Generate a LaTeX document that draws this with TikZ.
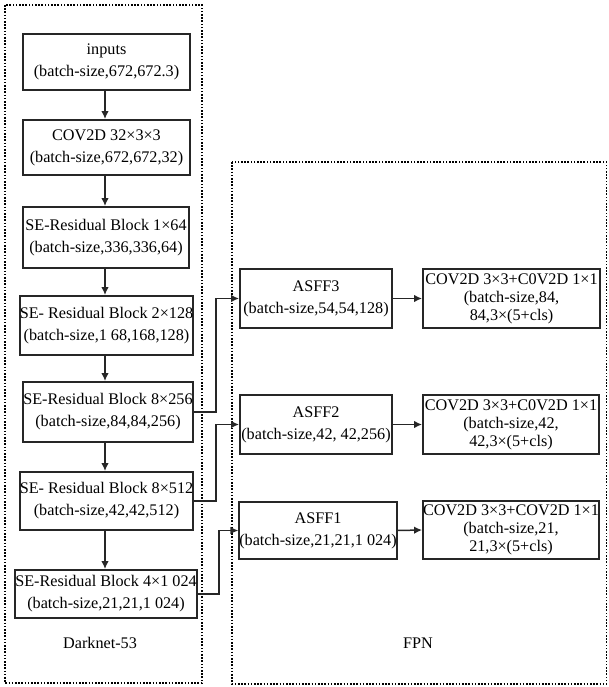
\documentclass[tikz,border=0pt]{standalone}
\usepackage{fontspec}
\setmainfont{Liberation Serif}
\usetikzlibrary{arrows.meta}
\begin{document}
\begin{tikzpicture}[x=1pt,y=-1pt,
  box/.style={draw=black!85,line width=1.8pt,inner sep=0pt,align=center,
    font=\fontsize{16.2}{22}\selectfont,anchor=center},
  box3/.style={box,font=\fontsize{16.2}{18}\selectfont},
  frame/.style={draw=black,line width=1.5pt,dash pattern=on 1.6pt off 1.6pt},
  conn/.style={draw=black!85,line width=1.5pt,-{Latex[length=8pt,width=7.5pt]}},
  lbl/.style={font=\fontsize{16.2}{18}\selectfont,inner sep=0pt}]
\useasboundingbox (0,0) rectangle (608,687);
% frames
\draw[frame] (5,5) rectangle (202,683);
\draw[frame] (232,162) rectangle (606.5,684);
% left column
\node[box,minimum width=167pt,minimum height=56pt] (b1) at (106.5,62) {inputs\\(batch-size,672,672.3)};
\node[box,minimum width=167pt,minimum height=55pt] (b2) at (106.5,147.5) {COV2D 32×3×3\\(batch-size,672,672,32)};
\node[box,minimum width=166pt,minimum height=61pt] (b3) at (106,237.5) {SE-Residual Block 1×64\\(batch-size,336,336,64)};
\node[box,minimum width=173pt,minimum height=59pt] (b4) at (106.5,325.5) {SE- Residual Block 2×128\\(batch-size,1 68,168,128)};
\node[box,minimum width=170pt,minimum height=60pt] (b5) at (108,412) {SE-Residual Block 8×256\\(batch-size,84,84,256)};
\node[box,minimum width=173pt,minimum height=58pt] (b6) at (106.5,501) {SE- Residual Block 8×512\\(batch-size,42,42,512)};
\node[box,minimum width=182pt,minimum height=48pt] (b7) at (106,594) {SE-Residual Block 4×1 024\\(batch-size,21,21,1 024)};
\node[lbl] (dn) at (100,643) {Darknet-53};
% right column
\node[box,minimum width=152pt,minimum height=59pt] (a3) at (316,298.5) {ASFF3\\(batch-size,54,54,128)};
\node[box,minimum width=152pt,minimum height=59pt] (a2) at (316,424.5) {ASFF2\\(batch-size,42, 42,256)};
\node[box,minimum width=156pt,minimum height=57pt] (a1) at (318,530.5) {ASFF1\\(batch-size,21,21,1 024)};
\node[box3,minimum width=177pt,minimum height=59pt] (c3) at (511.5,298.5) {COV2D 3×3+C0V2D 1×1\\(batch-size,84,\\84,3×(5+cls)};
\node[box3,minimum width=176pt,minimum height=59pt] (c2) at (511,424.5) {COV2D 3×3+C0V2D 1×1\\(batch-size,42,\\42,3×(5+cls)};
\node[box3,minimum width=176pt,minimum height=58pt] (c1) at (511,530) {COV2D 3×3+COV2D 1×1\\(batch-size,21,\\21,3×(5+cls)};
\node[lbl] (fpn) at (418,643) {FPN};
% vertical arrows
\foreach \a/\b in {b1/b2,b2/b3,b3/b4,b4/b5,b5/b6,b6/b7}
  \draw[conn] (\a.south -| 105,0) -- (\b.north -| 105,0);
% cross connectors
\draw[conn] (b5.east) -- ++(22,0) |- (a3.west);
\draw[conn] (b6.east) -- ++(22,0) |- (a2.west);
\draw[conn] (b7.east) -- ++(21,0) |- (a1.west);
% to output boxes
\draw[conn] (a3.east) -- (c3.west);
\draw[conn] (a2.east) -- (c2.west);
\draw[conn] (a1.east) -- (c1.west);
\end{tikzpicture}
\end{document}
